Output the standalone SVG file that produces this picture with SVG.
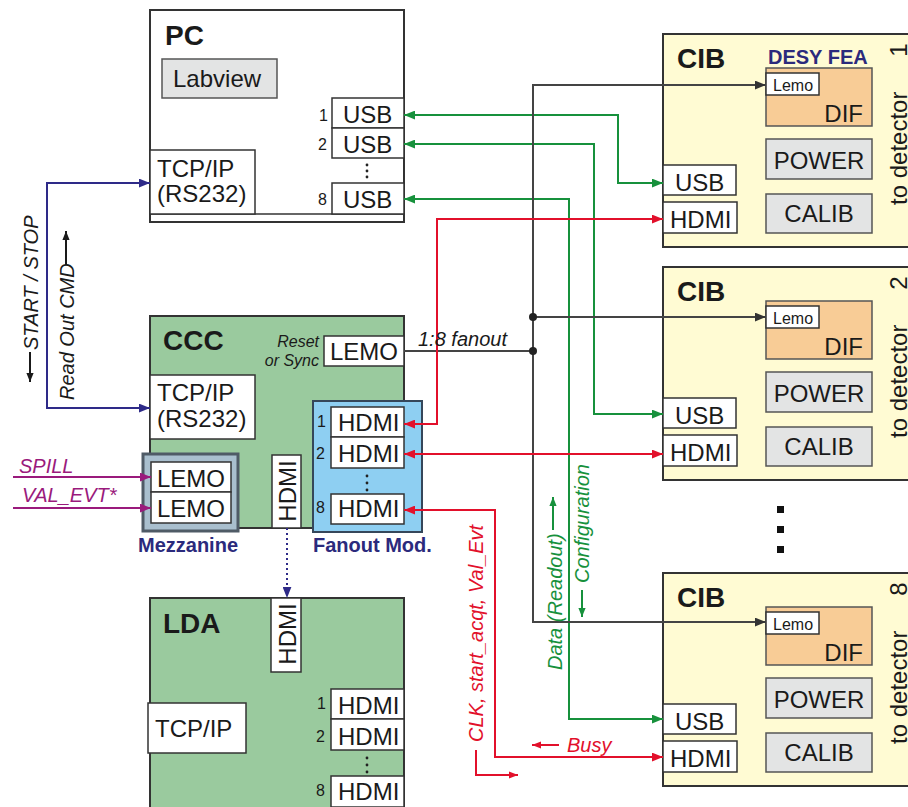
<svg xmlns="http://www.w3.org/2000/svg" width="908" height="807" viewBox="0 0 908 807">
<defs>
<style>
.t{font-family:"Liberation Sans",Arial,sans-serif;fill:#1a1a1a}
.lbl{font-size:24px}
.ttl{font-size:28px;font-weight:bold}
.num{font-size:16px}
.sm{font-size:16px}
.it{font-style:italic}
.sig{font-size:20px;font-style:italic}
.navy{fill:#2b2a7c;font-weight:bold;font-size:20px}
.box{stroke:#333;stroke-width:2}
.port{fill:#fff;stroke:#333;stroke-width:1.5}
.gray{fill:#e3e4e4;stroke:#555;stroke-width:1.5}
.grn{fill:#9aca9e}
.cib{fill:#fffbd3}
.dif{fill:#f8cc96;stroke:#555;stroke-width:1.5}
.c{fill:none;stroke-width:2}
</style>
<marker id="ag" viewBox="0 0 10 8" refX="10" refY="4" markerWidth="11" markerHeight="9" markerUnits="userSpaceOnUse" orient="auto-start-reverse"><path d="M0,0L10,4L0,8z" fill="#17913c"/></marker>
<marker id="ar" viewBox="0 0 10 8" refX="10" refY="4" markerWidth="11" markerHeight="9" markerUnits="userSpaceOnUse" orient="auto-start-reverse"><path d="M0,0L10,4L0,8z" fill="#e2102b"/></marker>
<marker id="ak" viewBox="0 0 10 8" refX="10" refY="4" markerWidth="11" markerHeight="9" markerUnits="userSpaceOnUse" orient="auto-start-reverse"><path d="M0,0L10,4L0,8z" fill="#333"/></marker>
<marker id="ab" viewBox="0 0 10 8" refX="10" refY="4" markerWidth="11" markerHeight="9" markerUnits="userSpaceOnUse" orient="auto-start-reverse"><path d="M0,0L10,4L0,8z" fill="#2e2a88"/></marker>
<marker id="am" viewBox="0 0 10 8" refX="10" refY="4" markerWidth="11" markerHeight="9" markerUnits="userSpaceOnUse" orient="auto-start-reverse"><path d="M0,0L10,4L0,8z" fill="#9a1a7c"/></marker>
<marker id="as" viewBox="0 0 10 8" refX="10" refY="4" markerWidth="9" markerHeight="8" markerUnits="userSpaceOnUse" orient="auto-start-reverse"><path d="M0,0L10,4L0,8z" fill="#1a1a1a"/></marker>
<marker id="asr" viewBox="0 0 10 8" refX="10" refY="4" markerWidth="9" markerHeight="8" markerUnits="userSpaceOnUse" orient="auto-start-reverse"><path d="M0,0L10,4L0,8z" fill="#e2102b"/></marker>
<marker id="asg" viewBox="0 0 10 8" refX="10" refY="4" markerWidth="9" markerHeight="8" markerUnits="userSpaceOnUse" orient="auto-start-reverse"><path d="M0,0L10,4L0,8z" fill="#17913c"/></marker>
</defs>
<rect width="908" height="807" fill="#fff"/>

<g id="pc">
<rect x="150" y="10" width="254" height="212" fill="#fff" class="box"/>
<line x1="150" y1="214" x2="404" y2="214" stroke="#333" stroke-width="1.5"/>
<text x="165" y="45" class="t ttl">PC</text>
<rect x="162" y="59" width="115" height="39" class="gray"/>
<text x="173" y="87" class="t lbl">Labview</text>
<rect x="150" y="150" width="105" height="64" class="port"/>
<text x="157" y="177" class="t lbl">TCP/IP</text>
<text x="157" y="202" class="t lbl">(RS232)</text>
<rect x="332" y="98" width="72" height="30" class="port"/>
<text x="343" y="123" class="t lbl">USB</text>
<rect x="332" y="128" width="72" height="30" class="port"/>
<text x="343" y="153" class="t lbl">USB</text>
<rect x="332" y="183" width="72" height="31" class="port"/>
<text x="343" y="208" class="t lbl">USB</text>
<text x="319" y="121" class="t num">1</text>
<text x="318" y="150" class="t num">2</text>
<text x="318" y="205" class="t num">8</text>
<circle cx="367" cy="165" r="1.4" fill="#222"/><circle cx="367" cy="171" r="1.4" fill="#222"/><circle cx="367" cy="177" r="1.4" fill="#222"/>
</g>

<g id="ccc">
<rect x="150" y="316" width="254" height="212" class="box grn"/>
<text x="163" y="350" class="t ttl">CCC</text>
<text x="319" y="347" class="t sm it" text-anchor="end">Reset</text>
<text x="319" y="366" class="t sm it" text-anchor="end">or Sync</text>
<rect x="324" y="336" width="80" height="30" class="port"/>
<text x="330" y="360" class="t lbl">LEMO</text>
<rect x="150" y="375" width="105" height="64" class="port"/>
<text x="157" y="401" class="t lbl">TCP/IP</text>
<text x="157" y="427" class="t lbl">(RS232)</text>
<rect x="272" y="455" width="29" height="73" class="port"/>
<text x="296" y="491" class="t lbl" text-anchor="middle" transform="rotate(-90 296 491)">HDMI</text>
</g>

<g id="mezzanine">
<rect x="143" y="454" width="95" height="77" fill="#a9bfce" stroke="#4f5b66" stroke-width="3"/>
<rect x="151" y="462" width="80" height="30" class="port"/>
<text x="157" y="487" class="t lbl">LEMO</text>
<rect x="151" y="492" width="80" height="31" class="port"/>
<text x="157" y="517" class="t lbl">LEMO</text>
<text x="138" y="552" class="t navy">Mezzanine</text>
</g>

<g id="fanout">
<rect x="313" y="401" width="109" height="131" fill="#8ecff2" stroke="#35475a" stroke-width="2"/>
<rect x="331" y="407" width="73" height="30" class="port"/>
<text x="338" y="431" class="t lbl">HDMI</text>
<rect x="331" y="437" width="73" height="31" class="port"/>
<text x="338" y="462" class="t lbl">HDMI</text>
<rect x="331" y="494" width="73" height="30" class="port"/>
<text x="338" y="517" class="t lbl">HDMI</text>
<text x="317" y="427" class="t num">1</text>
<text x="316" y="459" class="t num">2</text>
<text x="316" y="513" class="t num">8</text>
<circle cx="367" cy="476" r="1.4" fill="#222"/><circle cx="367" cy="483" r="1.4" fill="#222"/><circle cx="367" cy="490" r="1.4" fill="#222"/>
<text x="313" y="552" class="t navy">Fanout Mod.</text>
</g>

<g id="lda">
<rect x="150" y="598" width="254" height="230" class="box grn"/>
<text x="163" y="633" class="t ttl">LDA</text>
<rect x="271" y="598" width="30" height="74" class="port"/>
<text x="296" y="634" class="t lbl" text-anchor="middle" transform="rotate(-90 296 634)">HDMI</text>
<rect x="148" y="703" width="98" height="50" class="port"/>
<text x="155" y="737" class="t lbl">TCP/IP</text>
<rect x="331" y="689" width="73" height="30" class="port"/>
<text x="338" y="714" class="t lbl">HDMI</text>
<rect x="331" y="719" width="73" height="31" class="port"/>
<text x="338" y="745" class="t lbl">HDMI</text>
<rect x="331" y="776" width="73" height="31" class="port"/>
<text x="338" y="800" class="t lbl">HDMI</text>
<text x="317" y="709" class="t num">1</text>
<text x="316" y="742" class="t num">2</text>
<text x="316" y="796" class="t num">8</text>
<circle cx="367" cy="758" r="1.4" fill="#222"/><circle cx="367" cy="765" r="1.4" fill="#222"/><circle cx="367" cy="772" r="1.4" fill="#222"/>
</g>

<g id="cib1">
<rect x="663" y="34" width="262" height="213" class="box cib"/>
<text x="677" y="68" class="t ttl">CIB</text>
<text x="768" y="64" class="t navy">DESY FEA</text>
<rect x="766" y="68" width="106" height="58" class="dif"/>
<rect x="766" y="73" width="53" height="22" class="port"/>
<text x="773" y="91" class="t sm">Lemo</text>
<text x="863" y="122" class="t lbl" text-anchor="end">DIF</text>
<rect x="766" y="139" width="106" height="40" class="gray"/>
<text x="819" y="169" class="t lbl" text-anchor="middle">POWER</text>
<rect x="766" y="194" width="106" height="39" class="gray"/>
<text x="819" y="222" class="t lbl" text-anchor="middle">CALIB</text>
<rect x="663" y="165" width="73" height="30" class="port"/>
<text x="675" y="191" class="t lbl">USB</text>
<rect x="663" y="202" width="74" height="31" class="port"/>
<text x="670" y="228" class="t lbl">HDMI</text>
<text x="907" y="205" class="t lbl" transform="rotate(-90 907 205)">to detector</text>
<text x="907" y="50" class="t lbl" text-anchor="middle" transform="rotate(-90 907 50)">1</text>
</g>

<g id="cib2" transform="translate(0,233)">
<rect x="663" y="34" width="262" height="213" class="box cib"/>
<text x="677" y="68" class="t ttl">CIB</text>
<rect x="766" y="68" width="106" height="58" class="dif"/>
<rect x="766" y="73" width="53" height="22" class="port"/>
<text x="773" y="91" class="t sm">Lemo</text>
<text x="863" y="122" class="t lbl" text-anchor="end">DIF</text>
<rect x="766" y="139" width="106" height="40" class="gray"/>
<text x="819" y="169" class="t lbl" text-anchor="middle">POWER</text>
<rect x="766" y="194" width="106" height="39" class="gray"/>
<text x="819" y="222" class="t lbl" text-anchor="middle">CALIB</text>
<rect x="663" y="165" width="73" height="30" class="port"/>
<text x="675" y="191" class="t lbl">USB</text>
<rect x="663" y="202" width="74" height="31" class="port"/>
<text x="670" y="228" class="t lbl">HDMI</text>
<text x="907" y="205" class="t lbl" transform="rotate(-90 907 205)">to detector</text>
<text x="907" y="50" class="t lbl" text-anchor="middle" transform="rotate(-90 907 50)">2</text>
</g>

<g id="cib8" transform="translate(0,539)">
<rect x="663" y="34" width="262" height="213" class="box cib"/>
<text x="677" y="68" class="t ttl">CIB</text>
<rect x="766" y="68" width="106" height="58" class="dif"/>
<rect x="766" y="73" width="53" height="22" class="port"/>
<text x="773" y="91" class="t sm">Lemo</text>
<text x="863" y="122" class="t lbl" text-anchor="end">DIF</text>
<rect x="766" y="139" width="106" height="40" class="gray"/>
<text x="819" y="169" class="t lbl" text-anchor="middle">POWER</text>
<rect x="766" y="194" width="106" height="39" class="gray"/>
<text x="819" y="222" class="t lbl" text-anchor="middle">CALIB</text>
<rect x="663" y="165" width="73" height="30" class="port"/>
<text x="675" y="191" class="t lbl">USB</text>
<rect x="663" y="202" width="74" height="31" class="port"/>
<text x="670" y="228" class="t lbl">HDMI</text>
<text x="907" y="205" class="t lbl" transform="rotate(-90 907 205)">to detector</text>
<text x="907" y="50" class="t lbl" text-anchor="middle" transform="rotate(-90 907 50)">8</text>
</g>

<g id="more-cibs">
<rect x="777" y="506" width="7" height="7" fill="#111"/>
<rect x="777" y="526" width="7" height="7" fill="#111"/>
<rect x="777" y="546" width="7" height="7" fill="#111"/>
</g>

<g id="connectors">
<path d="M404,115H618V183H663" class="c" stroke="#17913c" marker-start="url(#ag)" marker-end="url(#ag)"/>
<path d="M404,144H594V414H663" class="c" stroke="#17913c" marker-start="url(#ag)" marker-end="url(#ag)"/>
<path d="M404,199H569V719H663" class="c" stroke="#17913c" marker-start="url(#ag)" marker-end="url(#ag)"/>
<path d="M766,85H533V622H766" class="c" stroke="#444" stroke-width="1.8" marker-start="url(#ak)" marker-end="url(#ak)"/>
<path d="M533,317H766" class="c" stroke="#444" stroke-width="1.8" marker-end="url(#ak)"/>
<path d="M404,351H533" class="c" stroke="#444" stroke-width="1.8"/>
<circle cx="533" cy="317" r="4" fill="#222"/>
<circle cx="533" cy="351" r="4" fill="#222"/>
<path d="M404,424H437V219H663" class="c" stroke="#e2102b" marker-start="url(#ar)" marker-end="url(#ar)"/>
<path d="M404,454H663" class="c" stroke="#e2102b" marker-start="url(#ar)" marker-end="url(#ar)"/>
<path d="M404,510H495V757H663" class="c" stroke="#e2102b" marker-start="url(#ar)" marker-end="url(#ar)"/>
<path d="M150,183H47V408H150" class="c" stroke="#2e2a88" marker-start="url(#ab)" marker-end="url(#ab)"/>
<path d="M13,477H151" class="c" stroke="#9a1a7c" marker-end="url(#am)"/>
<path d="M13,508H151" class="c" stroke="#9a1a7c" marker-end="url(#am)"/>
<path d="M287,528V598" class="c" stroke="#2e2a88" stroke-width="1.8" stroke-dasharray="2,3" marker-end="url(#ab)"/>
</g>

<g id="labels">
<text x="418" y="346" class="t sig">1:8 fanout</text>
<text x="19" y="473" class="t sig" style="fill:#9a1a7c">SPILL</text>
<text x="22" y="502" class="t sig" style="fill:#9a1a7c">VAL_EVT*</text>
<text x="38" y="350" class="t sig" transform="rotate(-90 38 350)">START / STOP</text>
<path d="M30,352V382" class="c" stroke="#1a1a1a" stroke-width="1.5" marker-end="url(#as)"/>
<text x="74" y="400" class="t sig" transform="rotate(-90 74 400)">Read Out CMD</text>
<path d="M66,265V231" class="c" stroke="#1a1a1a" stroke-width="1.5" marker-end="url(#as)"/>
<text x="483" y="742" class="t sig" style="fill:#e2102b" transform="rotate(-90 483 742)">CLK, start_acqt, Val_Evt</text>
<path d="M476,750V775H518" class="c" stroke="#e2102b" stroke-width="1.5" marker-end="url(#asr)"/>
<text x="567" y="752" class="t sig" style="fill:#e2102b">Busy</text>
<path d="M559,745H532" class="c" stroke="#e2102b" stroke-width="1.5" marker-end="url(#asr)"/>
<text x="562" y="670" class="t sig" style="fill:#17913c" transform="rotate(-90 562 670)">Data (Readout)</text>
<path d="M553,530V497" class="c" stroke="#17913c" stroke-width="1.5" marker-end="url(#asg)"/>
<text x="589" y="583" class="t sig" style="fill:#17913c" transform="rotate(-90 589 583)">Configuration</text>
<path d="M582,590V617" class="c" stroke="#17913c" stroke-width="1.5" marker-end="url(#asg)"/>
</g>
</svg>
